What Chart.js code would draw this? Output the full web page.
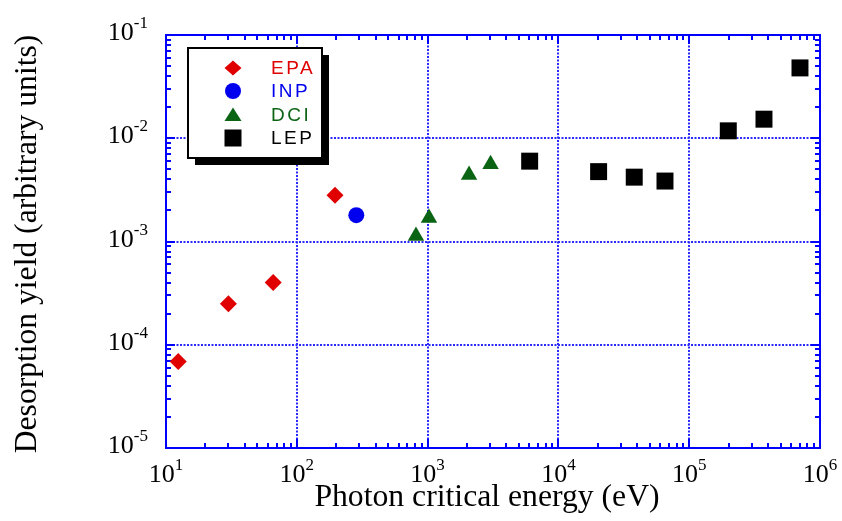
<!DOCTYPE html>
<html>
<head>
<meta charset="utf-8">
<script src="https://cdn.jsdelivr.net/npm/chart.js@4.4.1/dist/chart.umd.min.js"></script>
<style>
    html, body { margin: 0; padding: 0; background: #fff; }
    #grafica { display: block; }
</style>
</head>
<body>
<canvas id="grafica" width="842" height="521"></canvas>
<script>
// valores (energia en eV, rendimiento en unidades arbitrarias)
const epaEnergia = [12.4, 30, 66, 196];
const epaRendimiento = [6.9e-5, 2.5e-4, 4.0e-4, 2.8e-3];

const inpEnergia = [285];
const inpRendimiento = [1.8e-3];

const dciEnergia = [815, 1025, 2075, 3030];
const dciRendimiento = [1.13e-3, 1.69e-3, 4.4e-3, 5.6e-3];

const lepEnergia = [6030, 20300, 38000, 65300, 199000, 373000, 703000];
const lepRendimiento = [6.0e-3, 4.75e-3, 4.2e-3, 3.85e-3, 1.18e-2, 1.53e-2, 4.8e-2];

// exponentes de las etiquetas de los ejes
const xExponentes = [1, 2, 3, 4, 5, 6];
const yExponentes = [-5, -4, -3, -2, -1];

const tituloX = "Photon critical energy (eV)";
const tituloY = "Desorption yield (arbitrary units)";

const AZUL = "#0000ff";
const AZUL_REJILLA = "#2a2aff";
const ROJO = "#e00000";
const AZUL_INP = "#0000ee";
const VERDE = "#0b6414";
const NEGRO = "#000000";
const SERIF = "'Liberation Serif', 'Times New Roman', serif";
const SANS = "'Liberation Sans', Arial, sans-serif";

function esMayor(v) {
    const l = Math.log10(v);
    return Math.abs(l - Math.round(l)) < 1e-6;
}

function puntos(xs, ys) {
    return xs.map((x, i) => ({ x, y: ys[i] }));
}

// ---------------- MARCO Y MARCAS ----------------
const marcoPlugin = {
    id: "marco",
    beforeDatasetsDraw(chart) {
        const { ctx, chartArea: a, scales } = chart;
        const sx = scales.x;
        const sy = scales.y;
        ctx.save();
        ctx.strokeStyle = AZUL;
        ctx.lineWidth = 2;
        ctx.beginPath();
        ctx.rect(a.left, a.top, a.right - a.left, a.bottom - a.top);
        ctx.stroke();

        ctx.beginPath();
        for (let e = 1; e <= 5; e++) {
            for (let m = 1; m <= 9; m++) {
                if (e === 1 && m === 1) continue;
                const px = Math.round(sx.getPixelForValue(m * 10 ** e));
                const largo = m === 1 ? 9 : 5;
                ctx.moveTo(px, a.bottom);
                ctx.lineTo(px, a.bottom - largo);
                ctx.moveTo(px, a.top);
                ctx.lineTo(px, a.top + largo);
            }
        }
        for (let e = -5; e <= -2; e++) {
            for (let m = 1; m <= 9; m++) {
                if (e === -5 && m === 1) continue;
                const py = Math.round(sy.getPixelForValue(m * 10 ** e));
                const largo = m === 1 ? 9 : 5;
                ctx.moveTo(a.left, py);
                ctx.lineTo(a.left + largo, py);
                ctx.moveTo(a.right, py);
                ctx.lineTo(a.right - largo, py);
            }
        }
        ctx.stroke();
        ctx.restore();
    },
    afterDraw(chart) {
        const { ctx, chartArea: a, scales } = chart;
        const sx = scales.x;
        const sy = scales.y;
        ctx.save();
        ctx.fillStyle = NEGRO;
        ctx.textBaseline = "alphabetic";

        // etiquetas 10^n
        const fuenteBase = "26px " + SERIF;
        const fuenteSup = "17px " + SERIF;
        function potencia(exp, x, yBase, alinear) {
            ctx.font = fuenteBase;
            const wb = ctx.measureText("10").width;
            ctx.font = fuenteSup;
            const ws = ctx.measureText(String(exp)).width;
            const total = wb + ws;
            const x0 = alinear === "center" ? x - total / 2 : x - total;
            ctx.textAlign = "left";
            ctx.font = fuenteBase;
            ctx.fillText("10", x0, yBase);
            ctx.font = fuenteSup;
            ctx.fillText(String(exp), x0 + wb, yBase - 12);
        }
        for (const e of xExponentes) {
            potencia(e, sx.getPixelForValue(10 ** e), a.bottom + 34, "center");
        }
        for (const e of yExponentes) {
            potencia(e, a.left - 18, sy.getPixelForValue(10 ** e) + 5, "right");
        }

        // titulos de los ejes
        function fuenteParaAncho(texto, ancho) {
            ctx.font = "100px " + SERIF;
            const w = ctx.measureText(texto).width;
            return (100 * ancho / w).toFixed(1) + "px " + SERIF;
        }
        ctx.textAlign = "center";
        ctx.textBaseline = "middle";
        ctx.font = fuenteParaAncho(tituloX, 345);
        ctx.fillText(tituloX, 487, 498);

        ctx.save();
        ctx.translate(28, 244);
        ctx.rotate(-Math.PI / 2);
        ctx.font = fuenteParaAncho(tituloY, 418);
        ctx.fillText(tituloY, 0, 0);
        ctx.restore();

        // leyenda con sombra
        const lx = 188, ly = 48, lw = 134, lh = 110;
        ctx.fillStyle = NEGRO;
        ctx.fillRect(lx + 7, ly + 7, lw, lh);
        ctx.fillStyle = "#fff";
        ctx.fillRect(lx, ly, lw, lh);
        ctx.strokeStyle = NEGRO;
        ctx.lineWidth = 2;
        ctx.strokeRect(lx, ly, lw, lh);

        const filas = [68, 91, 115, 138];
        chart.data.datasets.forEach((ds, i) => {
            const cy = filas[i];
            const cx = 233;
            ctx.fillStyle = ds.backgroundColor;
            ctx.beginPath();
            if (ds.pointStyle === "rectRot") {
                ctx.moveTo(cx - 8.5, cy);
                ctx.lineTo(cx, cy - 7.5);
                ctx.lineTo(cx + 8.5, cy);
                ctx.lineTo(cx, cy + 7.5);
            } else if (ds.pointStyle === "circle") {
                ctx.arc(cx, cy, 8, 0, Math.PI * 2);
            } else if (ds.pointStyle === "triangle") {
                ctx.moveTo(cx, cy - 7.5);
                ctx.lineTo(cx + 8.5, cy + 6);
                ctx.lineTo(cx - 8.5, cy + 6);
            } else {
                ctx.rect(cx - 8.5, cy - 8.5, 17, 17);
            }
            ctx.closePath();
            ctx.fill();

            ctx.font = "19px " + SANS;
            ctx.letterSpacing = "2.5px";
            ctx.textAlign = "left";
            ctx.textBaseline = "middle";
            ctx.fillText(ds.label, 271, cy + 1);
            ctx.letterSpacing = "0px";
        });
        ctx.restore();
    },
};

function serie(label, xs, ys, estilo, radio, color) {
    return {
        label,
        data: puntos(xs, ys),
        pointStyle: estilo,
        pointRadius: radio,
        pointHoverRadius: radio,
        backgroundColor: color,
        borderColor: color,
        borderWidth: 0,
        showLine: false,
    };
}

const ejeRejilla = (ctx) =>
    ctx.tick && esMayor(ctx.tick.value) ? AZUL_REJILLA : "rgba(0,0,0,0)";

new Chart(document.getElementById("grafica"), {
    type: "scatter",
    data: {
        datasets: [
            serie("EPA", epaEnergia, epaRendimiento, "rectRot", 8.5, ROJO),
            serie("INP", inpEnergia, inpRendimiento, "circle", 8, AZUL_INP),
            serie("DCI", dciEnergia, dciRendimiento, "triangle", 9.5, VERDE),
            serie("LEP", lepEnergia, lepRendimiento, "rect", 12, NEGRO),
        ],
    },
    options: {
        responsive: false,
        animation: false,
        devicePixelRatio: 1,
        layout: { padding: { left: 166, right: 22, top: 35, bottom: 73 } },
        plugins: {
            legend: { display: false },
            tooltip: { enabled: false },
        },
        scales: {
            x: {
                type: "logarithmic",
                min: 10,
                max: 1e6,
                ticks: { display: false },
                grid: { color: ejeRejilla, lineWidth: 2, drawTicks: false },
                border: { display: false, dash: [2, 1.5] },
                afterFit: (s) => { s.height = 0; },
            },
            y: {
                type: "logarithmic",
                min: 1e-5,
                max: 1e-1,
                ticks: { display: false },
                grid: { color: ejeRejilla, lineWidth: 2, drawTicks: false },
                border: { display: false, dash: [2, 1.5] },
                afterFit: (s) => { s.width = 0; },
            },
        },
    },
    plugins: [marcoPlugin],
});
</script>
</body>
</html>
